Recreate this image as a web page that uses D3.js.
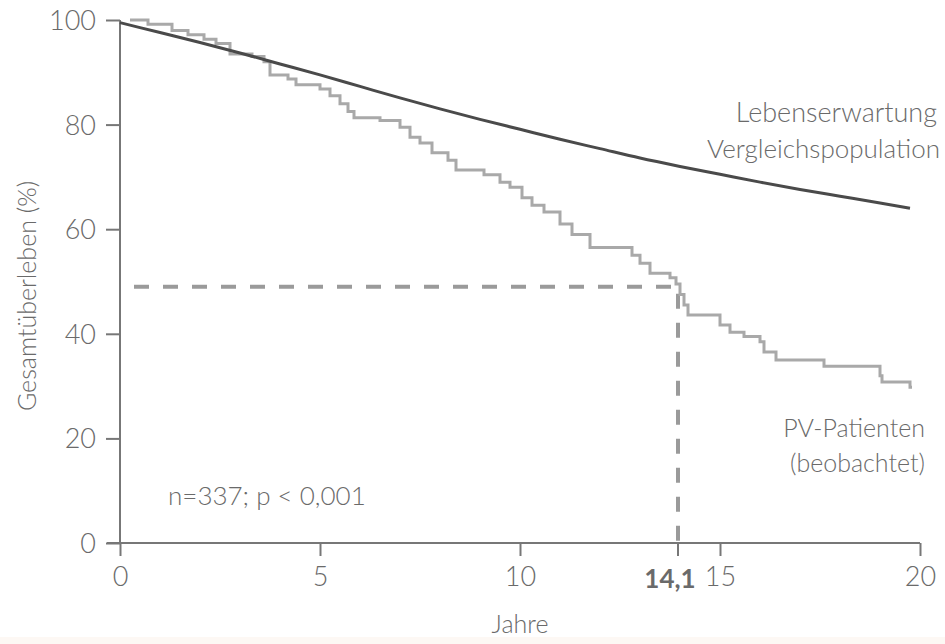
<!DOCTYPE html>
<html>
<head>
<meta charset="utf-8">
<script src="https://cdn.jsdelivr.net/npm/d3@7"></script>
<style>
  body { margin: 0; background: #fff; }
  svg { display: block; }
  text { font-family: Lato, "Open Sans", sans-serif; font-weight: 300; fill: #6a6a6a; }
</style>
</head>
<body>
<svg id="chart" width="945" height="644"></svg>
<script>
// Lebenserwartung Vergleichspopulation (smooth curve), [Jahre, %]
const expected = [
  [0, 99.5], [1, 97.6], [2, 95.7], [3, 93.7], [4, 91.6], [5, 89.5], [6, 87.3],
  [7, 85.1], [8, 83.0], [9, 81.0], [10, 79.1], [11, 77.2], [12, 75.4], [13, 73.6],
  [14, 72.0], [15, 70.5], [16, 69.0], [17, 67.6], [18, 66.3], [19, 65.0], [19.75, 64.0]
]

// PV-Patienten (beobachtet), Kaplan-Meier steps [Jahre, %]
const observed = [
  [0.25, 100], [0.7, 99.2], [1.3, 98.0], [1.7, 97.2], [2.1, 96.3], [2.4, 95.5],
  [2.75, 93.5], [3.3, 93.0], [3.6, 92.0], [3.75, 89.5], [4.2, 88.7], [4.4, 87.6],
  [5.0, 86.8], [5.25, 85.5], [5.5, 84.0], [5.7, 82.5], [5.85, 81.3], [6.5, 80.8],
  [7.0, 79.5], [7.25, 77.6], [7.5, 76.5], [7.8, 74.6], [8.2, 73.2], [8.4, 71.3],
  [9.1, 70.4], [9.5, 69.0], [9.75, 68.0], [10.05, 66.0], [10.3, 64.6], [10.6, 63.3],
  [11.0, 61.0], [11.3, 59.0], [11.75, 56.5], [12.8, 55.0], [13.0, 53.5], [13.25, 51.6],
  [13.75, 50.7], [13.9, 49.5], [14.0, 47.5], [14.1, 45.5], [14.2, 43.6], [15.0, 41.7],
  [15.25, 40.3], [15.6, 39.5], [16.0, 38.5], [16.1, 36.5], [16.4, 35.0], [17.6, 33.8],
  [19.0, 32.0], [19.05, 30.8], [19.75, 29.8], [19.8, 29.8]
]

const xTicks = [0, 5, 10, 15, 20]
const yTicks = [0, 20, 40, 60, 80, 100]
const medianLabel = "14,1"
const medianAt = 13.95   // where the marker sits on the drawn axis
const medianValue = 49

const svg = d3.select("#chart")

const x = d3.scaleLinear().domain([0, 20]).range([120, 920])
const y = d3.scaleLinear().domain([0, 100]).range([543, 20])

//faint band at the very bottom
svg.append("rect").attr("x", 0).attr("y", 637).attr("width", 945).attr("height", 7).attr("fill", "#fdf8f4")

//axes
const xAxis = svg.append("g").attr("transform", `translate(0,${y(0)})`)
  .call(d3.axisBottom(x).tickValues(xTicks).tickSize(13).tickPadding(8).tickFormat(d3.format("d")))
const yAxis = svg.append("g").attr("transform", `translate(${x(0)},0)`)
  .call(d3.axisLeft(y).tickValues(yTicks).tickSize(14).tickPadding(10))

xAxis.select(".domain").attr("d", `M${x(0) - 13},0H${x(20)}`)
yAxis.select(".domain").attr("d", `M0,${y(100)}V${y(0)}`)

for (const ax of [xAxis, yAxis]) {
  ax.selectAll(".domain, .tick line").attr("stroke", "#777").attr("stroke-width", 2)
  ax.selectAll(".tick text").style("font-size", "27px").style("font-family", "Lato, sans-serif").attr("fill", "#6a6a6a")
}
yAxis.selectAll(".tick text").attr("dy", "0.35em")
xAxis.selectAll(".tick text").attr("dy", "0.8em")

//median marker tick and label
svg.append("line")
  .attr("x1", x(medianAt)).attr("x2", x(medianAt))
  .attr("y1", y(0)).attr("y2", y(0) + 13)
  .attr("stroke", "#777").attr("stroke-width", 2)
svg.append("text")
  .attr("x", x(medianAt) - 8).attr("y", y(0) + 45)
  .attr("text-anchor", "middle")
  .style("font-size", "26px").style("font-weight", "bold")
  .attr("fill", "#555")
  .text(medianLabel)

//dashed median lines
svg.append("path")
  .attr("d", `M${x(0) + 14},${y(medianValue)}H${x(medianAt)}V${y(0)}`)
  .attr("fill", "none").attr("stroke", "#9a9a9a").attr("stroke-width", 4)
  .attr("stroke-dasharray", "15,14")

//curves
const smooth = d3.line().x(d => x(d[0])).y(d => y(d[1])).curve(d3.curveMonotoneX)
const steps = d3.line().x(d => x(d[0])).y(d => y(d[1])).curve(d3.curveStepAfter)

svg.append("path").attr("d", steps(observed))
  .attr("fill", "none").attr("stroke", "#a9a9a9").attr("stroke-width", 3)
svg.append("path").attr("d", smooth(expected))
  .attr("fill", "none").attr("stroke", "#4a4a4a").attr("stroke-width", 3)

//labels
const label = (tx, ty, txt, anchor, size) => svg.append("text")
  .attr("x", tx).attr("y", ty).attr("text-anchor", anchor || "end")
  .style("font-size", (size || 25) + "px").text(txt)

label(937, 122, "Lebenserwartung", "end", 27)
label(940, 158, "Vergleichspopulation", "end", 26)
label(925, 437, "PV-Patienten")
label(925, 472, "(beobachtet)")
label(168, 505, "n=337; p < 0,001", "start", 26)
label(520, 633, "Jahre", "middle")

svg.append("text")
  .attr("transform", "translate(36,296) rotate(-90)")
  .attr("text-anchor", "middle")
  .style("font-size", "25px")
  .text("Gesamtüberleben (%)")
</script>
</body>
</html>
